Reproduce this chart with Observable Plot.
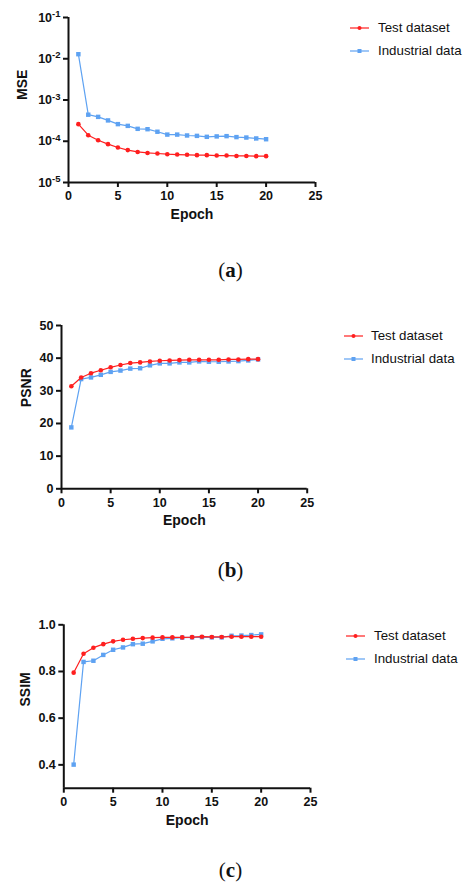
<!DOCTYPE html>
<html>
<head>
<meta charset="utf-8">
<script src="https://cdn.jsdelivr.net/npm/d3@7"></script>
<script src="https://cdn.jsdelivr.net/npm/@observablehq/plot@0.6"></script>
<style>
  html, body { margin: 0; padding: 0; background: #fff; }
  #root { position: relative; width: 465px; height: 888px; overflow: hidden; font-family: "Liberation Sans", Arial, sans-serif; }
  .panel { position: absolute; left: 0; }
  .legend { position: absolute; font-size: 13.3px; color: #111; }
  .legend .item { position: absolute; white-space: nowrap; height: 16px; line-height: 16px; }
  .legend svg { position: absolute; left: 0; top: 0; }
  .legend span { position: absolute; top: 0; }
  .caption { position: absolute; width: 465px; left: -2px; text-align: center; font-family: "Liberation Serif", "DejaVu Serif", serif; font-size: 21px; line-height: 24px; color: #111; }
  .caption b { font-weight: bold; }
</style>
</head>
<body>
<div id="root"></div>
<script>
// ---- data ----
const epochs = [1,2,3,4,5,6,7,8,9,10,11,12,13,14,15,16,17,18,19,20];
const seriesNames = ["Test dataset", "Industrial data"];
const seriesColors = ["#ff1f1f", "#5ea2f2"];

const mseTest = [2.6e-4,1.4e-4,1.06e-4,8.5e-5,7.05e-5,6.1e-5,5.5e-5,5.2e-5,5.05e-5,4.86e-5,4.76e-5,4.7e-5,4.6e-5,4.6e-5,4.5e-5,4.5e-5,4.4e-5,4.4e-5,4.35e-5,4.35e-5];
const mseInd  = [1.29e-2,4.4e-4,3.9e-4,3.2e-4,2.6e-4,2.36e-4,2.0e-4,1.96e-4,1.7e-4,1.45e-4,1.45e-4,1.38e-4,1.35e-4,1.28e-4,1.31e-4,1.33e-4,1.26e-4,1.23e-4,1.17e-4,1.12e-4];

const psnrTest = [31.4,34.1,35.4,36.3,37.2,37.9,38.5,38.7,39.0,39.2,39.3,39.4,39.5,39.5,39.5,39.5,39.6,39.6,39.7,39.7];
const psnrInd  = [18.8,33.6,34.1,34.9,35.8,36.2,36.8,36.9,37.8,38.4,38.4,38.7,38.7,39.0,38.9,38.9,39.0,39.1,39.3,39.6];

const ssimTest = [0.795,0.876,0.902,0.917,0.929,0.936,0.940,0.943,0.945,0.946,0.946,0.946,0.947,0.949,0.948,0.948,0.949,0.949,0.949,0.949];
const ssimInd  = [0.401,0.841,0.846,0.871,0.893,0.903,0.917,0.919,0.929,0.940,0.942,0.945,0.946,0.947,0.946,0.946,0.953,0.954,0.956,0.959];

const xTicks = [0,5,10,15,20,25];
const mseTicks = [1e-5,1e-4,1e-3,1e-2,1e-1];
const psnrTicks = [0,10,20,30,40,50];
const ssimTicks = [0.4,0.6,0.8,1.0];

const captions = ["a","b","c"];

function rows(a, b) {
  return epochs.map((e, i) => ({epoch: e, test: a[i], ind: b[i]}));
}

const root = document.getElementById("root");

function panel(cfg) {
  const data = rows(cfg.test, cfg.ind);
  const p = Plot.plot({
    width: cfg.width, height: cfg.height,
    marginLeft: cfg.ml, marginRight: cfg.mr, marginTop: cfg.mt, marginBottom: cfg.mb,
    style: {fontFamily: "'Liberation Sans', Arial, sans-serif", background: "white", overflow: "visible"},
    x: {domain: [0, 25]},
    y: {type: cfg.type || "linear", domain: cfg.domain},
    marks: [
      Plot.axisX({ticks: xTicks, tickSize: 5, tickPadding: 4, strokeWidth: 2, stroke: "#111", fill: "#111", fontSize: 12.5, fontWeight: "bold", label: null, tickFormat: d3.format("d")}),
      Plot.axisY({ticks: cfg.ticks, tickSize: 5, tickPadding: 3, strokeWidth: 2, stroke: "#111", fill: "#111", fontSize: 12.5, fontWeight: "bold", label: null, tickFormat: cfg.fmt}),
      Plot.ruleX([0], {stroke: "#111", strokeWidth: 2}),
      Plot.ruleY([cfg.domain[0]], {stroke: "#111", strokeWidth: 2}),
      Plot.line(data, {x: "epoch", y: "ind", stroke: seriesColors[1], strokeWidth: 1.2}),
      Plot.dot(data, {x: "epoch", y: "ind", symbol: "square", r: 2.5, fill: seriesColors[1], stroke: null}),
      Plot.line(data, {x: "epoch", y: "test", stroke: seriesColors[0], strokeWidth: 1.2}),
      Plot.dot(data, {x: "epoch", y: "test", symbol: "circle", r: 2.3, fill: seriesColors[0], stroke: null}),
      Plot.text(["Epoch"], {frameAnchor: "bottom", dy: cfg.xdy, fontSize: 14, fontWeight: "bold", fill: "#111"}),
      Plot.text([cfg.ylabel], {frameAnchor: "left", dx: cfg.ydx, rotate: -90, fontSize: 14, fontWeight: "bold", fill: "#111"})
    ]
  });
  p.classList.add("panel");
  p.style.top = cfg.top + "px";
  root.appendChild(p);

  // superscript exponents for log ticks
  if (cfg.type === "log") {
    d3.select(p).selectAll("text").each(function() {
      const t = this.textContent;
      const m = /^10\^(.+)$/.exec(t);
      if (m) {
        const sel = d3.select(this);
        sel.text("10");
        sel.append("tspan").attr("dy", "-0.45em").attr("font-size", "9.5").text(m[1]);
      }
    });
  }

  // legend
  const lg = document.createElement("div");
  lg.className = "legend";
  lg.style.left = cfg.lgx + "px";
  lg.style.top = cfg.lgy + "px";
  seriesNames.forEach((name, i) => {
    const it = document.createElement("div");
    it.className = "item";
    it.style.top = (i * 22.5 - 8) + "px";
    const w = 19;
    it.innerHTML = `<svg width="${w}" height="16"><line x1="0" x2="${w}" y1="8" y2="8" stroke="${seriesColors[i]}" stroke-width="1.2"/>` +
      (i === 0 ? `<circle cx="${w/2}" cy="8" r="2" fill="${seriesColors[i]}"/>` : `<rect x="${w/2-2}" y="6" width="4" height="4" fill="${seriesColors[i]}"/>`) +
      `</svg><span style="left:${cfg.lgtx}px">${name}</span>`;
    lg.appendChild(it);
  });
  root.appendChild(lg);

  const cap = document.createElement("div");
  cap.className = "caption";
  cap.style.top = cfg.capy + "px";
  cap.innerHTML = `(<b>${cfg.cap}</b>)`;
  root.appendChild(cap);
}

panel({top: 0, width: 330, height: 235, ml: 68, mr: 15, mt: 17, mb: 53,
  type: "log", domain: [1e-5, 1e-1], ticks: mseTicks,
  fmt: d => "10^" + Math.round(Math.log10(d)),
  test: mseTest, ind: mseInd, ylabel: "MSE", xdy: 36, ydx: -46,
  lgx: 350, lgy: 28, lgtx: 28, cap: captions[0], capy: 258});

panel({top: 300, width: 330, height: 235, ml: 61, mr: 23.3, mt: 25, mb: 46.7,
  domain: [0, 50], ticks: psnrTicks, fmt: d3.format("d"),
  test: psnrTest, ind: psnrInd, ylabel: "PSNR", xdy: 36, ydx: -35,
  lgx: 344, lgy: 336, lgtx: 27, cap: captions[1], capy: 558});

panel({top: 600, width: 330, height: 240, ml: 63.3, mr: 20, mt: 24.3, mb: 52.3,
  domain: [0.3, 1.0], ticks: ssimTicks, fmt: d3.format(".1f"),
  test: ssimTest, ind: ssimInd, ylabel: "SSIM", xdy: 37, ydx: -38,
  lgx: 346, lgy: 636, lgtx: 28, cap: captions[2], capy: 858});
</script>
</body>
</html>
